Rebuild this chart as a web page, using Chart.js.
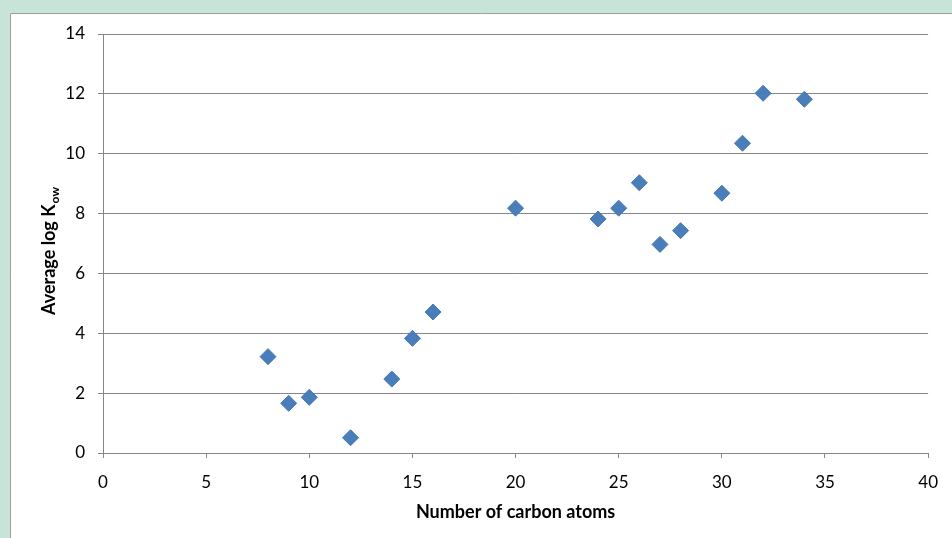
<!DOCTYPE html>
<html>
<head>
<meta charset="utf-8">
<script src="https://cdn.jsdelivr.net/npm/chart.js@4/dist/chart.umd.min.js"></script>
<style>
  html, body { margin: 0; padding: 0; background: #c8e4d8; overflow: hidden; }
  #grafico { display: block; }
</style>
</head>
<body>
<canvas id="grafico" width="952" height="538"></canvas>
<script>
// Dados
const carbonos = [8, 9, 10, 12, 14, 15, 16, 20, 24, 25, 26, 27, 28, 30, 31, 32, 34];
const logKow = [3.22, 1.66, 1.86, 0.51, 2.47, 3.83, 4.71, 8.18, 7.82, 8.18, 9.03, 6.97, 7.43, 8.68, 10.35, 12.02, 11.82];
const ticksX = [0, 5, 10, 15, 20, 25, 30, 35, 40];
const ticksY = [0, 2, 4, 6, 8, 10, 12, 14];
const tituloX = "Number of carbon atoms";
const tituloY = "Average log K";
const subscritoY = "ow";

const corGrade = "#878787";
const fonte = "Lato";

Chart.defaults.font.family = fonte;

const pontos = carbonos.map((c, i) => ({ x: c, y: logKow[i] }));

// Fundo verde com o painel branco
const fundo = {
  id: "fundo",
  beforeDraw(chart) {
    const c = chart.ctx;
    c.save();
    c.fillStyle = "#c8e4d8";
    c.fillRect(0, 0, chart.width, chart.height);
    c.fillStyle = "#ffffff";
    c.fillRect(10, 13, chart.width - 10, chart.height - 13);
    c.strokeStyle = "#9e9e9e";
    c.lineWidth = 1;
    c.beginPath();
    c.moveTo(10.5, chart.height);
    c.lineTo(10.5, 13.5);
    c.lineTo(chart.width, 13.5);
    c.stroke();
    c.restore();
  },
};

// Títulos dos eixos (o do eixo y tem subscrito)
const titulos = {
  id: "titulos",
  afterDraw(chart) {
    const c = chart.ctx;
    const area = chart.chartArea;
    c.save();
    c.fillStyle = "#000";
    c.textBaseline = "alphabetic";

    c.font = "bold 18px " + fonte;
    c.textAlign = "center";
    c.fillText(tituloX, (area.left + area.right) / 2, 518);

    c.translate(55, (area.top + area.bottom) / 2 + 8);
    c.rotate(-Math.PI / 2);
    c.font = "bold 18px " + fonte;
    const w1 = c.measureText(tituloY).width;
    c.font = "bold 12px " + fonte;
    const w2 = c.measureText(subscritoY).width;
    const inicio = -(w1 + w2) / 2;
    c.textAlign = "left";
    c.font = "bold 18px " + fonte;
    c.fillText(tituloY, inicio, 0);
    c.font = "bold 12px " + fonte;
    c.fillText(subscritoY, inicio + w1 + 1, 4);
    c.restore();
  },
};

new Chart(document.getElementById("grafico"), {
  type: "scatter",
  data: {
    datasets: [{
      data: pontos,
      pointStyle: "rectRot",
      pointRadius: 8,
      pointHoverRadius: 8,
      backgroundColor: "#4a7ebb",
      borderColor: "#4677b3",
      borderWidth: 1,
    }],
  },
  options: {
    responsive: false,
    animation: false,
    layout: { padding: { left: 0, top: 34, right: 21, bottom: 0 } },
    plugins: {
      legend: { display: false },
      tooltip: { enabled: false },
    },
    scales: {
      x: {
        type: "linear",
        min: ticksX[0],
        max: ticksX[ticksX.length - 1],
        afterBuildTicks: (s) => { s.ticks = ticksX.map((v) => ({ value: v })); },
        afterFit: (s) => { s.height = 85; },
        ticks: { color: "#000", font: { size: 17 }, padding: 14, maxRotation: 0 },
        grid: { drawOnChartArea: false, tickLength: 5, tickColor: corGrade },
        border: { color: corGrade },
      },
      y: {
        min: ticksY[0],
        max: ticksY[ticksY.length - 1],
        afterBuildTicks: (s) => { s.ticks = ticksY.map((v) => ({ value: v })); },
        afterFit: (s) => { s.width = 103; },
        ticks: { color: "#000", font: { size: 17 }, padding: 13 },
        grid: { color: corGrade, tickLength: 5, tickColor: corGrade },
        border: { color: corGrade },
      },
    },
  },
  plugins: [fundo, titulos],
});
</script>
</body>
</html>
